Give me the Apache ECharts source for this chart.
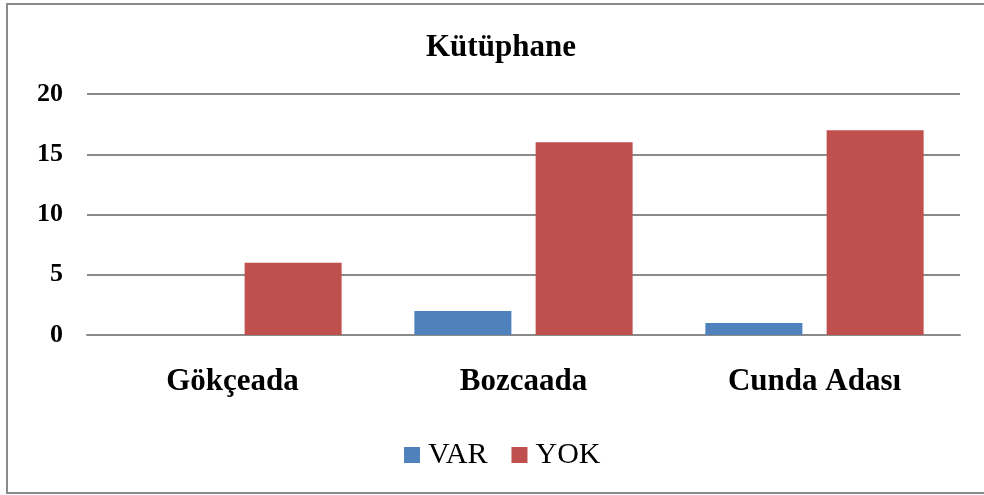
<!DOCTYPE html>
<html>
<head>
<meta charset="utf-8">
<script src="https://cdn.jsdelivr.net/npm/echarts@6/dist/echarts.min.js"></script>
<style>
  html, body { margin: 0; padding: 0; background: #fff; }
  #chart { width: 984px; height: 495px; }
</style>
</head>
<body>
<div id="chart"></div>
<script>
// chart data
const categories = ["Gökçeada", "Bozcaada", "Cunda Adası"];
const varValues = [0, 2, 1];
const yokValues = [6, 16, 17];
const yTicks = [0, 5, 10, 15, 20];

const serif = "'Liberation Serif', 'Times New Roman', serif";

let myChart = echarts.init(document.getElementById("chart"));
myChart.setOption({
  animation: false,
  backgroundColor: "#fff",
  title: {
    text: "Kütüphane",
    left: 421,
    top: 27,
    textStyle: {
      fontFamily: serif,
      fontSize: 31,
      fontWeight: "bold",
      color: "#000"
    }
  },
  // outer frame (right side runs past the picture edge)
  graphic: [{
    type: "rect",
    shape: { x: 7, y: 4, width: 1000, height: 489 },
    style: { fill: null, stroke: "#8a8a8a", lineWidth: 2 },
    silent: true
  }],
  legend: {
    data: ["VAR", "YOK"],
    bottom: 20,
    left: 399,
    icon: "rect",
    itemWidth: 16,
    itemHeight: 16,
    itemGap: 24,
    textStyle: {
      fontFamily: serif,
      fontSize: 30,
      color: "#000",
      padding: [0, 0, 0, 3]
    }
  },
  grid: {
    left: 87,
    right: 24,
    top: 94,
    bottom: 160,
    containLabel: false
  },
  xAxis: {
    type: "category",
    data: categories,
    axisLine: { lineStyle: { color: "#8a8a8a", width: 2 } },
    axisTick: { show: false },
    axisLabel: {
      margin: 31,
      fontFamily: serif,
      fontSize: 31,
      fontWeight: "bold",
      color: "#000"
    }
  },
  yAxis: {
    type: "value",
    min: yTicks[0],
    max: yTicks[yTicks.length - 1],
    interval: 5,
    axisLine: { show: false },
    axisTick: { show: false },
    splitLine: { lineStyle: { color: "#8a8a8a", width: 2 } },
    axisLabel: {
      margin: 24,
      fontFamily: serif,
      fontSize: 26,
      fontWeight: "bold",
      color: "#000",
      padding: [4, 0, 0, 0]
    }
  },
  series: [
    {
      name: "VAR",
      type: "bar",
      data: varValues,
      barGap: "25%",
      barCategoryGap: "25%",
      itemStyle: { color: "#4F81BD" }
    },
    {
      name: "YOK",
      type: "bar",
      data: yokValues,
      itemStyle: { color: "#C0504D" }
    }
  ]
});
</script>
</body>
</html>
